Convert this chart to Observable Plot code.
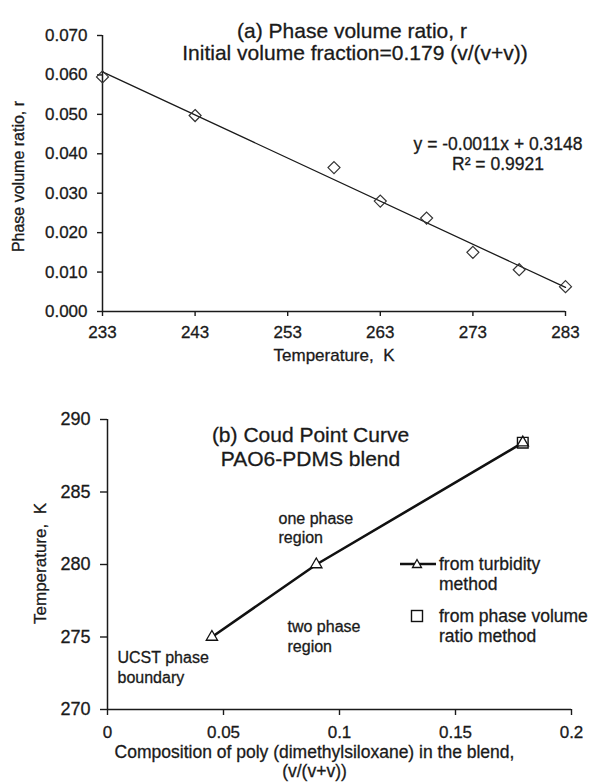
<!DOCTYPE html>
<html><head><meta charset="utf-8">
<script src="https://cdn.jsdelivr.net/npm/d3@7"></script>
<script src="https://cdn.jsdelivr.net/npm/@observablehq/plot@0.6"></script>
<style>
body{margin:0;background:#fff;font-family:"Liberation Sans",Arial,sans-serif;color:#1a1a1a;}
#wrap{position:relative;width:589px;height:784px;overflow:hidden;}
#wrap svg{display:block;}
#wrap svg text{stroke:#1a1a1a;stroke-width:0.3px;}
.lg{position:absolute;font-size:17.5px;line-height:20px;color:#1a1a1a;-webkit-text-stroke:0.3px #1a1a1a;}
.sw{position:absolute;}
</style></head><body><div id="wrap"></div>
<script>
// ---------- Panel (a) data ----------
const tempA = [233, 243, 258, 263, 268, 273, 278, 283];
const ratioA = [0.0595, 0.0497, 0.0365, 0.0280, 0.0237, 0.0150, 0.0106, 0.0063];
const xTicksA = [233, 243, 253, 263, 273, 283];
const yTicksA = [0, 0.01, 0.02, 0.03, 0.04, 0.05, 0.06, 0.07];
const titleA = ["(a) Phase volume ratio, r", "Initial volume fraction=0.179 (v/(v+v))"];
const eqA = ["y = -0.0011x + 0.3148", "R² = 0.9921"];
const xLabelA = "Temperature,  K";
const yLabelA = "Phase volume ratio, r";

// ---------- Panel (b) data ----------
const compTurb = [0.045, 0.09, 0.179];
const tempTurb = [275, 280, 288.4];
const compPVR = [0.179];
const tempPVR = [288.4];
const xTicksB = [0, 0.05, 0.1, 0.15, 0.2];
const yTicksB = [270, 275, 280, 285, 290];
const titleB = ["(b) Coud Point Curve", "PAO6-PDMS blend"];
const xLabelB = ["Composition of poly (dimethylsiloxane) in the blend,", "(v/(v+v))"];
const yLabelB = "Temperature,  K";
const legendB = [["from turbidity", "method"], ["from phase volume", "ratio method"]];

const font = '"Liberation Sans", Arial, sans-serif';
const ink = "#1a1a1a";
const dataA = tempA.map((t, i) => ({t, r: ratioA[i]}));
const dataTurb = compTurb.map((c, i) => ({c, T: tempTurb[i]}));
const dataPVR = compPVR.map((c, i) => ({c, T: tempPVR[i]}));
const txt = (s, o) => Plot.text([s], {text: d => d, fill: ink, ...o});

const plotA = Plot.plot({
  width: 589, height: 392,
  marginLeft: 102, marginRight: 24, marginTop: 35, marginBottom: 81,
  style: {fontFamily: font, fontSize: "17px", color: ink, background: "white", overflow: "visible"},
  x: {domain: [233, 283]},
  y: {domain: [0, 0.07]},
  marks: [
    Plot.axisX({ticks: xTicksA, tickSize: 5, tickPadding: 9, tickFormat: d => String(d), label: null, strokeWidth: 1.4}),
    Plot.axisY({ticks: yTicksA, tickSize: 5, tickPadding: 10, tickFormat: d3.format(".3f"), label: null, strokeWidth: 1.4}),
    Plot.ruleY([0], {stroke: ink, strokeWidth: 1.5}),
    Plot.ruleX([233], {stroke: ink, strokeWidth: 1.5}),
    Plot.linearRegressionY(dataA, {x: "t", y: "r", ci: 0, stroke: ink, strokeWidth: 1.3}),
    Plot.dot(dataA, {x: "t", y: "r", symbol: "diamond2", r: 5.4, stroke: "#333", strokeWidth: 1.2, fill: "none"}),
    txt(titleA[0], {frameAnchor: "top", dx: 18, dy: -12, fontSize: 21}),
    txt(titleA[1], {frameAnchor: "top", dx: 21, dy: 10, fontSize: 21}),
    txt(eqA[0], {frameAnchor: "top", dx: 164, dy: 102, fontSize: 17.5}),
    txt(eqA[1], {frameAnchor: "top", dx: 164, dy: 122, fontSize: 17.5}),
    txt(xLabelA, {frameAnchor: "bottom", dy: 49, fontSize: 17}),
    txt(yLabelA, {frameAnchor: "left", textAnchor: "middle", dx: -84, dy: 3, rotate: -90, fontSize: 16})
  ]
});

const plotB = Plot.plot({
  width: 589, height: 392,
  marginLeft: 107, marginRight: 18, marginTop: 27, marginBottom: 75,
  style: {fontFamily: font, fontSize: "17px", color: ink, background: "white", overflow: "visible"},
  x: {domain: [0, 0.2]},
  y: {domain: [270, 290]},
  marks: [
    Plot.axisX({ticks: xTicksB, tickSize: 6, tickPadding: 10, tickFormat: d => String(d), label: null, strokeWidth: 1.4}),
    Plot.axisY({ticks: yTicksB, tickSize: 7, tickPadding: 10, tickFormat: d => String(d), label: null, strokeWidth: 1.4, fontSize: 18}),
    Plot.ruleY([270], {stroke: ink, strokeWidth: 1.5}),
    Plot.ruleX([0], {stroke: ink, strokeWidth: 1.5}),
    Plot.line(dataTurb, {x: "c", y: "T", stroke: "#111", strokeWidth: 2.6}),
    Plot.dot(dataTurb, {x: "c", y: "T", symbol: "triangle", r: 4.2, fill: "white", stroke: "#111", strokeWidth: 1.3}),
    Plot.dot(dataPVR, {x: "c", y: "T", symbol: "square", r: 6, fill: "none", stroke: "#111", strokeWidth: 1.4}),
    txt(titleB[0], {frameAnchor: "top", dx: -29, dy: 8, fontSize: 21}),
    txt(titleB[1], {frameAnchor: "top", dx: -29, dy: 32, fontSize: 21}),
    txt("one phase", {frameAnchor: "top-left", textAnchor: "start", dx: 171, dy: 93, fontSize: 16}),
    txt("region", {frameAnchor: "top-left", textAnchor: "start", dx: 171, dy: 112, fontSize: 16}),
    txt("two phase", {frameAnchor: "top-left", textAnchor: "start", dx: 180, dy: 201, fontSize: 16}),
    txt("region", {frameAnchor: "top-left", textAnchor: "start", dx: 180, dy: 221, fontSize: 16}),
    txt("UCST phase", {frameAnchor: "top-left", textAnchor: "start", dx: 10, dy: 232, fontSize: 16}),
    txt("boundary", {frameAnchor: "top-left", textAnchor: "start", dx: 10, dy: 252, fontSize: 16}),
    txt(xLabelB[0], {frameAnchor: "bottom", dx: -25, dy: 48, fontSize: 17.5}),
    txt(xLabelB[1], {frameAnchor: "bottom", dx: -25, dy: 67, fontSize: 17.5}),
    txt(yLabelB, {frameAnchor: "left", textAnchor: "middle", dx: -67, dy: -1, rotate: -90, fontSize: 17})
  ]
});

const wrap = document.getElementById("wrap");
wrap.appendChild(plotA);
wrap.appendChild(plotB);

// Legend for panel (b)
const legend = document.createElement("div");
legend.innerHTML = `
<svg class="sw" style="left:399px;top:556px" width="38" height="16">
  <line x1="1" y1="8" x2="37" y2="8" stroke="#111" stroke-width="2.6"/>
  <path d="M18,3.5 L22.5,11.5 L13.5,11.5 Z" fill="white" stroke="#111" stroke-width="1.3"/>
</svg>
<div class="lg" style="left:439px;top:554px">${legendB[0][0]}<br>${legendB[0][1]}</div>
<svg class="sw" style="left:409px;top:608px" width="16" height="16">
  <rect x="2.5" y="2.5" width="11" height="11" fill="none" stroke="#111" stroke-width="1.4"/>
</svg>
<div class="lg" style="left:439px;top:606px">${legendB[1][0]}<br>${legendB[1][1]}</div>`;
wrap.appendChild(legend);
</script>
</body></html>
